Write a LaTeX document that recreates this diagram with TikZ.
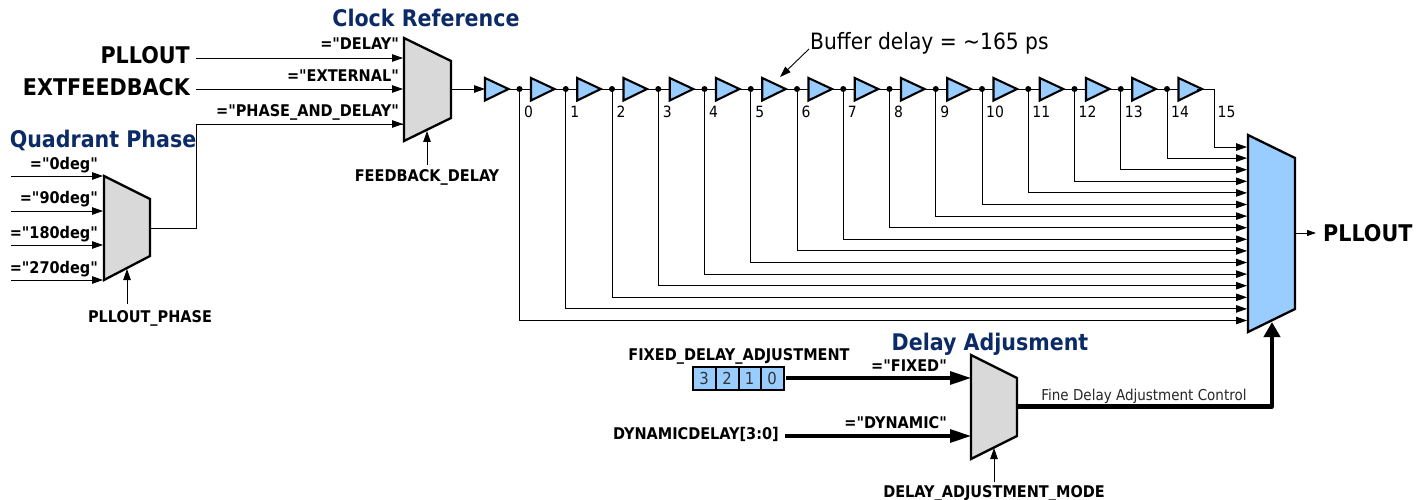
\documentclass[tikz,border=0pt]{standalone}
\usepackage{fontspec}
\setmainfont{DejaVu Sans Condensed}[Ligatures=TeXOff]
\usetikzlibrary{arrows.meta}
\definecolor{navy}{HTML}{0B2A66}
\definecolor{lblue}{HTML}{99CCFF}
\definecolor{lgray}{HTML}{D9D9D9}
\tikzset{
  x=1pt,y=-1pt,
  wire/.style={draw=black,line width=0.9pt},
  arr/.style={wire,-{Triangle[length=11pt,width=7.5pt]}},
  bus/.style={draw=black,line width=3.2pt,-{Triangle[length=21pt,width=13pt]}},
  muxshape/.style={draw=black,line width=2.3pt,line join=miter},
  buf/.style={draw=black,line width=2.1pt,fill=lblue,line join=miter},
  dotn/.style={circle,fill=black,inner sep=0pt,minimum size=6pt},
  lab/.style={font=\bfseries\fontsize{16.1}{18}\selectfont,inner sep=0pt},
  big/.style={font=\bfseries\fontsize{23}{26}\selectfont,inner sep=0pt},
  head/.style={font=\bfseries\fontsize{22.9}{26}\selectfont,text=navy,inner sep=0pt},
  tap/.style={font=\fontsize{15.5}{18}\selectfont,inner sep=0pt},
}
\begin{document}
\begin{tikzpicture}
\useasboundingbox (0,0) rectangle (1427,500);
% muxes
\draw[muxshape,fill=lgray] (404,38) -- (451,61) -- (451,118) -- (404,141) -- cycle;
\draw[muxshape,fill=lgray] (104,176) -- (150,199) -- (150,256) -- (104,280) -- cycle;
\draw[muxshape,fill=lblue] (1248,135) -- (1295,158) -- (1295,309) -- (1248,332) -- cycle;
\draw[muxshape,fill=lgray] (971,355) -- (1017,378) -- (1017,436) -- (971,459) -- cycle;
% clock reference
\node[head,anchor=base] (hclk) at (426,27) {Clock Reference};
\node[big,anchor=base east] (pll) at (190,64) {PLLOUT};
\node[big,anchor=base east] (ext) at (190,96) {EXTFEEDBACK};
\coordinate (m1a) at (403,58);\coordinate (m1b) at (403,89);\coordinate (m1c) at (403,124);
\coordinate (m1o) at (451,89);\coordinate (m1s) at (427,131);
\draw[arr] (196,58) -- (m1a);
\draw[arr] (196,89) -- (m1b);
\node[lab,anchor=base east] (l1) at (399,50) {="DELAY"};
\node[lab,anchor=base east] (l2) at (399,82) {="EXTERNAL"};
\node[lab,anchor=base east] (l3) at (399,117) {="PHASE\_AND\_DELAY"};
\node[lab,anchor=base] (fbd) at (427,181) {FEEDBACK\_DELAY};
\draw[arr] (427,165) -- (m1s);
% quadrant
\node[head,anchor=base] (hq) at (103,147) {Quadrant Phase};
\foreach \y in {176,211,245,280}{
  \draw[arr] (11,\y) -- (103,\y);
}
\node[lab,anchor=base east] at (98,169) {="0deg"};
\node[lab,anchor=base east] at (98,204) {="90deg"};
\node[lab,anchor=base east] at (98,238) {="180deg"};
\node[lab,anchor=base east] at (98,273) {="270deg"};
\node[lab,anchor=base] (pph) at (150,322) {PLLOUT\_PHASE};
\draw[arr] (127,304) -- (127,269);
\draw[wire] (150,228) -- (196,228) -- (196,124) -- (m1c);
\draw[arr] (196,124) -- (m1c);
% buffers
\draw[arr] (m1o) -- (485,89);
\draw[buf] (485,78) -- (508.5,89) -- (485,100.5) -- cycle;
\foreach \i in {0,...,14}{
  \pgfmathsetmacro{\xd}{519.5+46.25*\i}
  \pgfmathsetmacro{\xb}{531+46.25*\i}
  \draw[wire] (\xd-11,89) -- (\xb,89);
  \draw[buf] (\xb,78) -- (\xb+23.5,89) -- (\xb,100.5) -- cycle;
  \node[dotn] (d\i) at (\xd,89) {};
  \node[tap,anchor=base] (t\i) at ({\xd+9+(\i>9?4:0)},118) {\i};
  \pgfmathsetmacro{\yy}{320.5-11.6*\i}
  \draw[arr] (d\i.center) -- (\xd,\yy) -- (1247,\yy);
}
\draw[arr] (1197,89) -- (1214,89) -- (1214,147) -- (1247,147);
\node[tap,anchor=base] (t15) at (1226.5,118) {15};
% buffer delay
\node[anchor=base west,inner sep=0pt,font=\fontsize{22.5}{26}\selectfont] (bd) at (810,50) {Buffer delay = \textasciitilde165 ps};
\draw[wire,-{Triangle[length=11pt,width=7.5pt]}] (809,49) -- (780,77);
% output
\draw[wire,-{Triangle[length=9pt,width=6pt]}] (1296,233) -- (1316,233);
\node[big,anchor=base west] (po) at (1323,241) {PLLOUT};
% delay adj
\node[head,anchor=base] (hd) at (990,350) {Delay Adjusment};
\node[lab,anchor=base] (fda) at (739,360) {FIXED\_DELAY\_ADJUSTMENT};
\foreach \x/\t in {693/3,716/2,738.5/1,761/0}{
  \draw[draw=black,line width=2pt,fill=lblue] (\x,367) rectangle ++(22.5,23);
  \node[tap,anchor=center,font=\fontsize{16.5}{18}\selectfont,text=black!80] at (\x+11.2,378.5) {\t};
}
\draw[bus] (786,378) -- (971,378);
\node[lab,anchor=base east] at (947,371) {="FIXED"};
\node[lab,anchor=base east] at (947,428) {="DYNAMIC"};
\node[lab,anchor=base east] (dd) at (779,439) {DYNAMICDELAY[3:0]};
\draw[bus] (785,436) -- (971,436);
\node[lab,anchor=base] (dam) at (994,497) {DELAY\_ADJUSTMENT\_MODE};
\draw[arr] (994,482) -- (994,448);
\draw[draw=black,line width=4.2pt,line join=round,-{Triangle[length=15pt,width=16pt]}] (1017,406.5) -- (1272,406.5) -- (1272,322);
\node[tap,anchor=base,font=\fontsize{15}{18}\selectfont,text=black!85] (fine) at (1144,400) {Fine Delay Adjustment Control};
\end{tikzpicture}
\end{document}
